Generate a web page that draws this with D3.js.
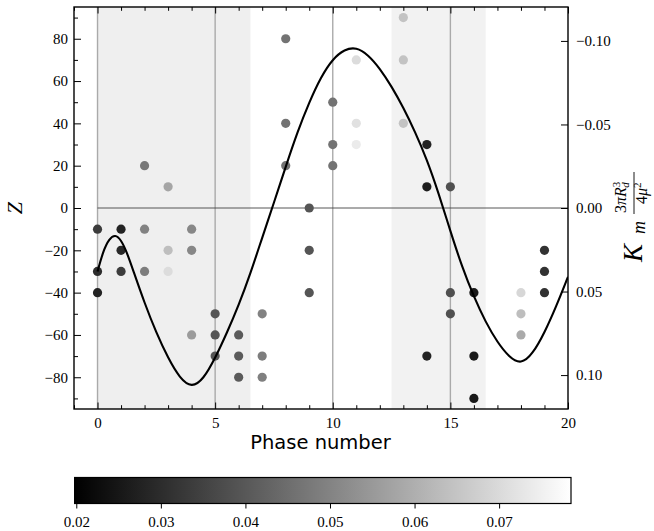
<!DOCTYPE html>
<html><head><meta charset="utf-8">
<script src="https://cdn.jsdelivr.net/npm/d3@7"></script>
<style>
html,body{margin:0;padding:0;background:#fff;}
svg{display:block;}
.tick text{font-family:"Liberation Serif","DejaVu Serif",serif;font-size:15px;fill:#000;}
</style></head>
<body><svg id="c" width="654" height="531"></svg>
<script>
// ---- data ----
const phases = [0,0,0, 1,1,1, 2,2,2, 3,3,3, 4,4,4, 5,5,5, 6,6,6, 7,7,7, 8,8,8, 9,9,9, 10,10,10, 11,11,11, 13,13,13, 14,14,14, 15,15,15, 16,16,16, 18,18,18, 19,19,19];
const zvals  = [-10,-30,-40, -10,-20,-30, 20,-10,-30, 10,-20,-30, -10,-20,-60, -50,-60,-70, -60,-70,-80, -50,-70,-80, 80,40,20, 0,-20,-40, 50,30,20, 70,40,30, 90,70,40, 30,10,-70, 10,-40,-50, -40,-70,-90, -40,-50,-60, -20,-30,-40];
const cvals  = [0.0336,0.0302,0.0279, 0.0279,0.0290,0.0336, 0.0474,0.0497,0.0486, 0.0578,0.0635,0.0705, 0.0509,0.0509,0.0555, 0.0394,0.0394,0.0394, 0.0405,0.0405,0.0405, 0.0497,0.0486,0.0493, 0.0463,0.0463,0.0463, 0.0394,0.0394,0.0394, 0.0463,0.0463,0.0463, 0.0705,0.0716,0.0739, 0.0647,0.0647,0.0647, 0.0279,0.0267,0.0279, 0.0382,0.0382,0.0382, 0.0256,0.0256,0.0256, 0.0693,0.0635,0.0589, 0.0313,0.0313,0.0313];
const curveX = [0,0.25,0.5,0.75,1,1.25,1.5,2,2.5,3,3.5,4,4.5,5,5.5,6,6.5,7,7.5,8,8.5,9,9.5,10,10.5,11,11.5,12,12.5,13,13.5,14,14.5,15,15.5,16,16.5,17,17.5,18,18.5,19,19.5,20];
const curveZ = [-30,-20,-14.5,-12.5,-15,-21,-29,-45,-59,-71,-80.5,-85,-81,-71,-59,-46,-31,-14,2.5,19.5,36,50,62,70.5,75,76,72.5,66,57.5,47.5,36,23,7,-11,-28,-42,-54,-63.5,-70.5,-74,-69,-59,-46.5,-32.5];
const shadeBands = [[0,6.5],[12.5,16.5]];
const vlinesX = [0,5,10,15];
const xTicks = [0,5,10,15,20];
const yTicks = [-80,-60,-40,-20,0,20,40,60,80];
const rTicks = [-0.10,-0.05,0.00,0.05,0.10];
const cbTicks = [0.02,0.03,0.04,0.05,0.06,0.07];
const cRange = [0.0198,0.0785];

// ---- layout ----
const L=74,R=568,T=7,B=409;
const svg=d3.select("#c");
const x=d3.scaleLinear().domain([-1,20]).range([L,R]);
const y=d3.scaleLinear().domain([-95,95]).range([B,T]);
const yR=d3.scaleLinear().domain([0.1203,-0.1203]).range([B,T]);
const col=d3.scaleLinear().domain(cRange).range(["#000000","#ffffff"]);

const defs=svg.append("defs");
defs.append("clipPath").attr("id","pc").append("rect").attr("x",L).attr("y",T).attr("width",R-L).attr("height",B-T);
const g=svg.append("g").attr("clip-path","url(#pc)");

g.selectAll(".band").data(shadeBands).join("rect")
 .attr("x",d=>x(d[0])).attr("y",T).attr("width",d=>x(d[1])-x(d[0])).attr("height",B-T)
 .attr("fill",(d,i)=>i===0?"#efefef":"#f2f2f2");
g.selectAll(".vl").data(vlinesX).join("line")
 .attr("x1",d=>x(d)).attr("x2",d=>x(d)).attr("y1",T).attr("y2",B)
 .attr("stroke","#aaaaaa").attr("stroke-width",1.4);
g.append("line").attr("x1",x(0)).attr("x2",x(20)).attr("y1",y(0)).attr("y2",y(0))
 .attr("stroke","#444").attr("stroke-width",0.9);

const pts=phases.map((p,i)=>({p,z:zvals[i],c:cvals[i]}));
g.selectAll(".dot").data(pts).join("circle")
 .attr("cx",d=>x(d.p)).attr("cy",d=>y(d.z)).attr("r",4.6).attr("fill",d=>col(d.c));

const cpts=curveX.map((v,i)=>[v,curveZ[i]]);
g.append("path").datum(cpts)
 .attr("d",d3.line().x(d=>x(d[0])).y(d=>y(d[1])).curve(d3.curveBasis))
 .attr("fill","none").attr("stroke","#000").attr("stroke-width",2.1);

// axes (ticks inward)
function style(sel){sel.select(".domain").remove();sel.selectAll(".tick line").attr("stroke","#000").attr("stroke-width",1);}
const xMinor=d3.range(-1,21).filter(v=>v%5!==0);
const yMinor=d3.range(-90,91,10).filter(v=>v%20!==0);
svg.append("g").attr("transform",`translate(0,${B})`).call(d3.axisBottom(x).tickValues(xTicks).tickSize(-6.5).tickPadding(8).tickFormat(d3.format("d"))).call(style);
svg.append("g").attr("transform",`translate(0,${B})`).call(d3.axisBottom(x).tickValues(xMinor).tickSize(-3.8).tickFormat("")).call(style);
svg.append("g").attr("transform",`translate(0,${T})`).call(d3.axisTop(x).tickValues(xTicks).tickSize(-6.5).tickFormat("")).call(style);
svg.append("g").attr("transform",`translate(0,${T})`).call(d3.axisTop(x).tickValues(xMinor).tickSize(-3.8).tickFormat("")).call(style);
const fmtY=v=>v<0?"\u2212"+Math.abs(v):String(v);
svg.append("g").attr("transform",`translate(${L},0)`).call(d3.axisLeft(y).tickValues(yTicks).tickSize(-7).tickPadding(6).tickFormat(fmtY)).call(style);
svg.append("g").attr("transform",`translate(${L},0)`).call(d3.axisLeft(y).tickValues(yMinor).tickSize(-4).tickFormat("")).call(style);
const fmtR=v=>{const s=Math.abs(v).toFixed(2);return v<-1e-9?"\u2212"+s:s;};
svg.append("g").attr("transform",`translate(${R},0)`).call(d3.axisRight(yR).tickValues(rTicks).tickSize(-7).tickPadding(8).tickFormat(fmtR)).call(style);

svg.append("rect").attr("x",L).attr("y",T).attr("width",R-L).attr("height",B-T)
 .attr("fill","none").attr("stroke","#000").attr("stroke-width",1.4);

// axis labels
svg.append("text").attr("transform","translate(320.5,449)").attr("text-anchor","middle")
 .style("font-family","'DejaVu Sans',sans-serif").style("font-size","19.5px").text("Phase number");
svg.append("text").attr("transform","translate(22,208) rotate(-90)").attr("text-anchor","middle")
 .style("font-family","'Liberation Serif',serif").style("font-style","italic").style("font-size","22px").text("Z");

const rl=svg.append("g").attr("transform","translate(643,262) rotate(-90)")
 .style("font-family","'Liberation Serif',serif").style("font-style","italic");
rl.append("text").attr("x",0).attr("y",-1).style("font-size","27px").text("K");
rl.append("text").attr("x",28).attr("y",2).style("font-size","18px").text("m");
const num=rl.append("text").attr("x",49).attr("y",-17).style("font-size","16px");
num.append("tspan").style("font-style","normal").text("3");
num.append("tspan").text("\u03C0R");
num.append("tspan").attr("dy",-6).style("font-size","11px").style("font-style","normal").text("3");
num.append("tspan").attr("dx",-6).attr("dy",9).style("font-size","11px").text("d");
rl.append("line").attr("x1",48).attr("x2",90).attr("y1",-9).attr("y2",-9).attr("stroke","#000").attr("stroke-width",0.9);
const den=rl.append("text").attr("x",58).attr("y",4).style("font-size","16px");
den.append("tspan").style("font-style","normal").text("4");
den.append("tspan").text("\u03BC");
den.append("tspan").attr("dy",-6).style("font-size","11px").style("font-style","normal").text("2");

// colorbar
const cx=d3.scaleLinear().domain(cRange).range([74.6,571]);
const grad=defs.append("linearGradient").attr("id","cg").attr("x1","0%").attr("x2","100%");
grad.append("stop").attr("offset","0%").attr("stop-color","#000");
grad.append("stop").attr("offset","100%").attr("stop-color","#fff");
svg.append("rect").attr("x",cx.range()[0]).attr("y",477.5).attr("width",cx.range()[1]-cx.range()[0]).attr("height",26)
 .attr("fill","url(#cg)").attr("stroke","#000").attr("stroke-width",1.2);
svg.append("g").attr("transform","translate(0,503.5)").call(d3.axisBottom(cx).tickValues(cbTicks).tickSize(5).tickPadding(8).tickFormat(d3.format(".2f"))).call(style);
</script></body></html>
